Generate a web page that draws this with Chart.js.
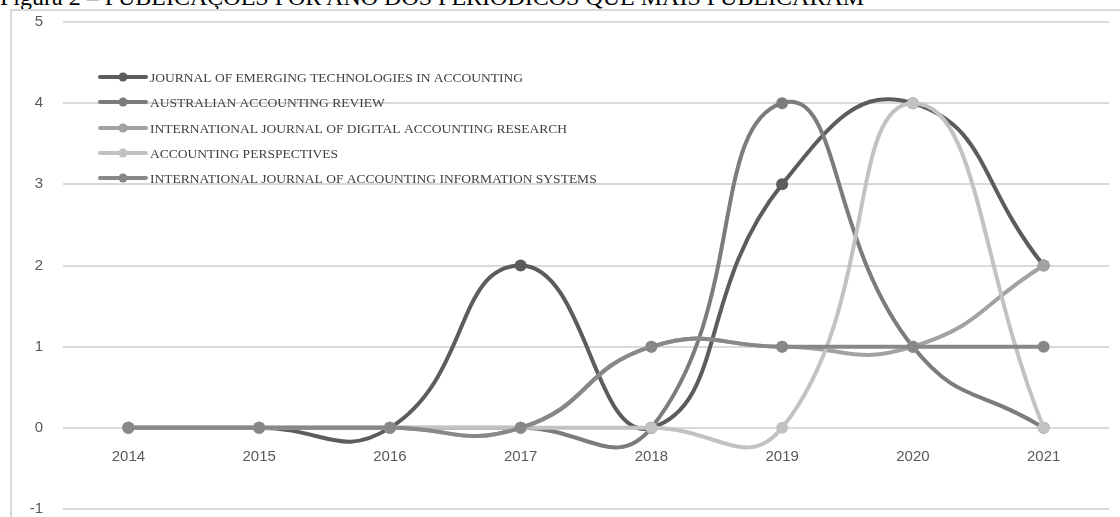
<!DOCTYPE html>
<html lang="pt">
<head>
    <meta charset="UTF-8">
    <title>Publicações por ano</title>
    <script src="https://cdn.jsdelivr.net/npm/chart.js"></script>
    <style>
        body {
            margin: 0;
            width: 1120px;
            height: 517px;
            overflow: hidden;
            background: #ffffff;
            position: relative;
        }
        .caption {
            position: absolute;
            left: 0;
            top: -16px;
            font-family: "Liberation Serif", "Times New Roman", serif;
            font-size: 24px;
            color: #000;
            white-space: nowrap;
        }
        .frame {
            position: absolute;
            left: 10px;
            top: 9px;
            width: 1120px;
            height: 530px;
            border: 2px solid #d9d9d9;
            box-sizing: border-box;
        }
        #chartWrap {
            position: absolute;
            left: 0;
            top: 0;
            width: 1120px;
            height: 517px;
        }
    </style>
</head>
<body>
    <div class="caption">Figura 2 – PUBLICAÇÕES POR ANO DOS PERIÓDICOS QUE MAIS PUBLICARAM</div>
    <div class="frame"></div>
    <div id="chartWrap"><canvas id="chart"></canvas></div>

    <script>
        // data
        const years = ['2014', '2015', '2016', '2017', '2018', '2019', '2020', '2021'];
        const seriesNames = [
            'JOURNAL OF EMERGING TECHNOLOGIES IN ACCOUNTING',
            'AUSTRALIAN ACCOUNTING REVIEW',
            'INTERNATIONAL JOURNAL OF DIGITAL ACCOUNTING RESEARCH',
            'ACCOUNTING PERSPECTIVES',
            'INTERNATIONAL JOURNAL OF ACCOUNTING INFORMATION SYSTEMS'
        ];
        const jeta = [0, 0, 0, 2, 0, 3, 4, 2];
        const aar = [0, 0, 0, 0, 0, 4, 1, 0];
        const ijdar = [0, 0, 0, 0, 1, 1, 1, 2];
        const accPersp = [0, 0, 0, 0, 0, 0, 4, 0];
        const ijais = [0, 0, 0, 0, 1, 1, 1, 1];
        const yTicks = [-1, 0, 1, 2, 3, 4, 5];

        const seriesValues = [jeta, aar, ijdar, accPersp, ijais];
        const seriesColors = ['#5c5c5c', '#7c7c7c', '#a2a2a2', '#c2c2c2', '#888888'];

        const tickFont = { family: '"Liberation Sans Narrow", "Liberation Sans", Arial, sans-serif', size: 15 };

        const datasets = seriesValues.map((vals, i) => ({
            label: seriesNames[i],
            data: vals,
            borderColor: seriesColors[i],
            backgroundColor: seriesColors[i],
            borderWidth: 4,
            pointRadius: 6,
            pointHoverRadius: 6,
            pointBorderWidth: 0,
            tension: 0.5,
            fill: false,
            clip: false,
            order: seriesValues.length - i
        }));

        // legend drawn inside the plot, top-left, like the original
        const insideLegend = {
            id: 'insideLegend',
            afterDraw(chart) {
                const ctx = chart.ctx;
                ctx.save();
                ctx.font = '13.5px "Liberation Serif", "Times New Roman", serif';
                ctx.textBaseline = 'middle';
                const x0 = 100, x1 = 146, rowY = [77, 102, 128, 153, 178];
                chart.data.datasets.forEach((ds, i) => {
                    const y = rowY[i];
                    ctx.strokeStyle = ds.borderColor;
                    ctx.lineWidth = 4;
                    ctx.lineCap = 'round';
                    ctx.beginPath();
                    ctx.moveTo(x0, y);
                    ctx.lineTo(x1, y);
                    ctx.stroke();
                    ctx.fillStyle = ds.borderColor;
                    ctx.beginPath();
                    ctx.arc((x0 + x1) / 2, y, 4.5, 0, Math.PI * 2);
                    ctx.fill();
                    ctx.fillStyle = '#404040';
                    ctx.fillText(ds.label, 150, y + 1);
                });
                ctx.restore();
            }
        };

        new Chart(document.getElementById('chart'), {
            type: 'line',
            data: { labels: years, datasets: datasets },
            options: {
                responsive: true,
                maintainAspectRatio: false,
                animation: false,
                layout: { padding: { left: 0, right: 11, top: 22, bottom: 8 } },
                plugins: {
                    legend: { display: false },
                    tooltip: { enabled: false }
                },
                scales: {
                    x: {
                        type: 'category',
                        offset: true,
                        position: { y: 0 },
                        afterFit(scale) {
                            scale.height = 0;
                            scale.paddingLeft = 0;
                            scale.paddingRight = 0;
                        },
                        grid: { display: false },
                        border: { display: false },
                        ticks: {
                            color: '#595959',
                            padding: 12,
                            font: tickFont
                        }
                    },
                    y: {
                        min: yTicks[0],
                        max: yTicks[yTicks.length - 1],
                        afterBuildTicks(scale) {
                            scale.ticks = yTicks.map(v => ({ value: v }));
                        },
                        afterFit(scale) {
                            scale.width = 63;
                            scale.paddingTop = 0;
                            scale.paddingBottom = 0;
                        },
                        grid: { color: '#d9d9d9', lineWidth: 2, drawTicks: false },
                        border: { display: false },
                        ticks: {
                            color: '#595959',
                            padding: 20,
                            font: tickFont
                        }
                    }
                }
            },
            plugins: [insideLegend]
        });
    </script>
</body>
</html>
